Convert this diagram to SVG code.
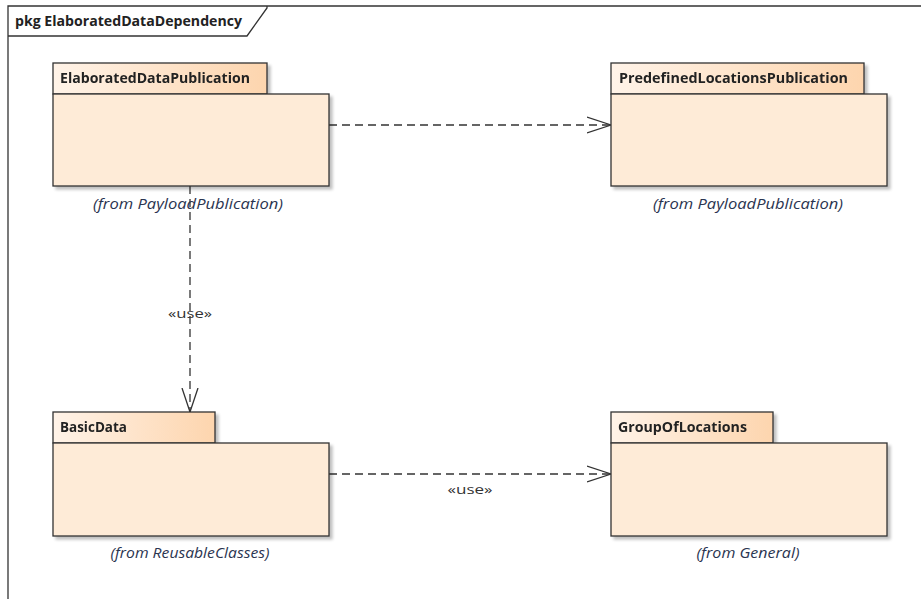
<svg xmlns="http://www.w3.org/2000/svg" width="921" height="599" viewBox="0 0 921 599">
<defs>
<linearGradient id="tabg" x1="0" y1="0" x2="1" y2="0">
<stop offset="0" stop-color="#FFF3E8"/>
<stop offset="1" stop-color="#FDD5AE"/>
</linearGradient>
<marker id="open" markerWidth="26" markerHeight="20" refX="24" refY="9" orient="auto" markerUnits="userSpaceOnUse">
<path d="M0,1 L24,9 L0,17" fill="none" stroke="#333" stroke-width="1.3"/>
</marker>
<filter id="sh" x="-5%" y="-5%" width="115%" height="115%">
<feOffset dx="3" dy="3" in="SourceAlpha" result="o"/>
<feGaussianBlur in="o" stdDeviation="1.5" result="b"/>
<feComponentTransfer in="b" result="c"><feFuncA type="linear" slope="0.25"/></feComponentTransfer>
<feMerge><feMergeNode in="c"/><feMergeNode in="SourceGraphic"/></feMerge>
</filter>
</defs>
<style>
.tab{fill:url(#tabg);stroke:#333;stroke-width:1.3}
.body{fill:#FEEBD7;stroke:#333;stroke-width:1.3}
.name{font-family:"Open Sans","Noto Sans",sans-serif;font-weight:bold;font-size:13.5px;fill:#222}
.from{font-family:"Open Sans","Noto Sans",sans-serif;font-style:italic;font-size:14px;fill:#2a3450;text-anchor:middle}
.dep{fill:none;stroke:#333;stroke-width:1.3;stroke-dasharray:8,5;marker-end:url(#open)}
.lbl{font-family:"Open Sans","Noto Sans",sans-serif;font-size:13.5px;fill:#333;text-anchor:middle}
</style>
<rect width="921" height="599" fill="#fff"/>
<g id="frame">
<path d="M8,599 L8,6 L921,6" fill="none" stroke="#333" stroke-width="1.3"/>
<path d="M8,36 L247,36 L267,8 L267,6" fill="none" stroke="#333" stroke-width="1.3"/>
<text x="15" y="26" class="name" textLength="227" lengthAdjust="spacingAndGlyphs">pkg ElaboratedDataDependency</text>
</g>
<g id="connectors">
<line class="dep" x1="329" y1="125" x2="611" y2="125"/>
<line class="dep" x1="190" y1="186" x2="190" y2="412"/>
<text class="lbl" x="190" y="318" textLength="44" lengthAdjust="spacingAndGlyphs">«use»</text>
<line class="dep" x1="329" y1="474" x2="611" y2="474"/>
<text class="lbl" x="470" y="494" textLength="45" lengthAdjust="spacingAndGlyphs">«use»</text>
</g>
<g id="ElaboratedDataPublication" filter="url(#sh)">
<rect class="tab" x="53" y="63" width="214" height="31"/>
<rect class="body" x="53" y="94" width="276" height="92"/>
<text class="name" x="60" y="83" textLength="190" lengthAdjust="spacingAndGlyphs">ElaboratedDataPublication</text>
</g>
<text class="from" x="188" y="209" textLength="190" lengthAdjust="spacingAndGlyphs">(from PayloadPublication)</text>
<g id="PredefinedLocationsPublication" filter="url(#sh)">
<rect class="tab" x="611" y="63" width="253" height="31"/>
<rect class="body" x="611" y="94" width="276" height="92"/>
<text class="name" x="619" y="83" textLength="229" lengthAdjust="spacingAndGlyphs">PredefinedLocationsPublication</text>
</g>
<text class="from" x="748" y="209" textLength="190" lengthAdjust="spacingAndGlyphs">(from PayloadPublication)</text>
<g id="BasicData" filter="url(#sh)">
<rect class="tab" x="53" y="412" width="162" height="31"/>
<rect class="body" x="53" y="443" width="276" height="93"/>
<text class="name" x="60" y="432" textLength="67" lengthAdjust="spacingAndGlyphs">BasicData</text>
</g>
<text class="from" x="190" y="558" textLength="159" lengthAdjust="spacingAndGlyphs">(from ReusableClasses)</text>
<g id="GroupOfLocations" filter="url(#sh)">
<rect class="tab" x="611" y="412" width="162" height="31"/>
<rect class="body" x="611" y="443" width="276" height="93"/>
<text class="name" x="618" y="432" textLength="129" lengthAdjust="spacingAndGlyphs">GroupOfLocations</text>
</g>
<text class="from" x="748" y="558" textLength="103" lengthAdjust="spacingAndGlyphs">(from General)</text>
</svg>
